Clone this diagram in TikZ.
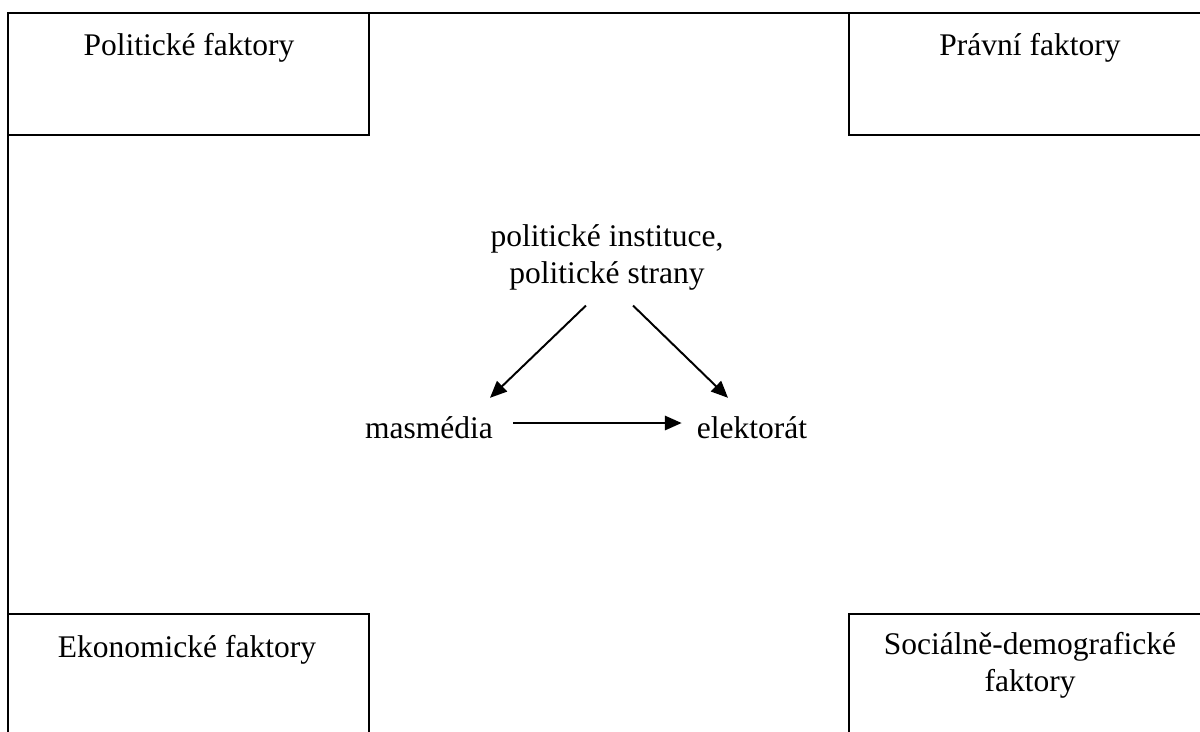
\documentclass[tikz,border=0pt]{standalone}
\usepackage{fontspec}
\setmainfont{Liberation Serif}
\usetikzlibrary{arrows.meta,calc}

\tikzset{
  frame/.style={line width=1.8pt},
  factorbox/.style={line width=1.5pt},
  lbl/.style={inner sep=0pt, font=\fontsize{22.4}{26.5}\selectfont},
  arr/.style={line width=1.4pt, -{Triangle[length=0.42cm,width=0.36cm]}}
}

\begin{document}
\begin{tikzpicture}[x=0.025cm, y=-0.025cm]

    % Define the page
    \useasboundingbox (0,0) rectangle (1200,731);

    % Draw the outer frame
    \draw[frame] (8,770) -- (8,13) -- (1230,13);

    % Draw the four boxes
    \draw[factorbox] (8,13) rectangle (369,135);
    \draw[factorbox] (849,13) rectangle (1210,135);
    \draw[factorbox] (8,614) rectangle (369,770);
    \draw[factorbox] (849,614) rectangle (1210,770);

    % Add labels for the boxes
    \node[lbl, anchor=base] (polit) at (189,55) {Politické faktory};
    \node[lbl, anchor=base] (pravni) at (1030,55) {Právní faktory};
    \node[lbl, anchor=base] (ekon) at (187,657) {Ekonomické faktory};
    \node[lbl, anchor=north, align=center] (social) at (1030,632)
        {Sociálně-demografické\\faktory};

    % Add the triangle
    \node[lbl, anchor=north, align=center] (inst) at (607,224)
        {politické instituce,\\politické strany};
    \node[lbl, anchor=base] (media) at (429,438) {masmédia};
    \node[lbl, anchor=base] (elekt) at (752,438) {elektorát};

    % Draw the arrows
    \draw[arr] ($(inst.south)+(-21,15)$) -- ($(media.north)+(61,-18)$);
    \draw[arr] ($(inst.south)+(26,15)$) -- ($(elekt.north)+(-24,-18)$);
    \draw[arr] ($(media.base east)+(20,-15)$) -- ($(elekt.base west)+(-15,-15)$);

\end{tikzpicture}
\end{document}
